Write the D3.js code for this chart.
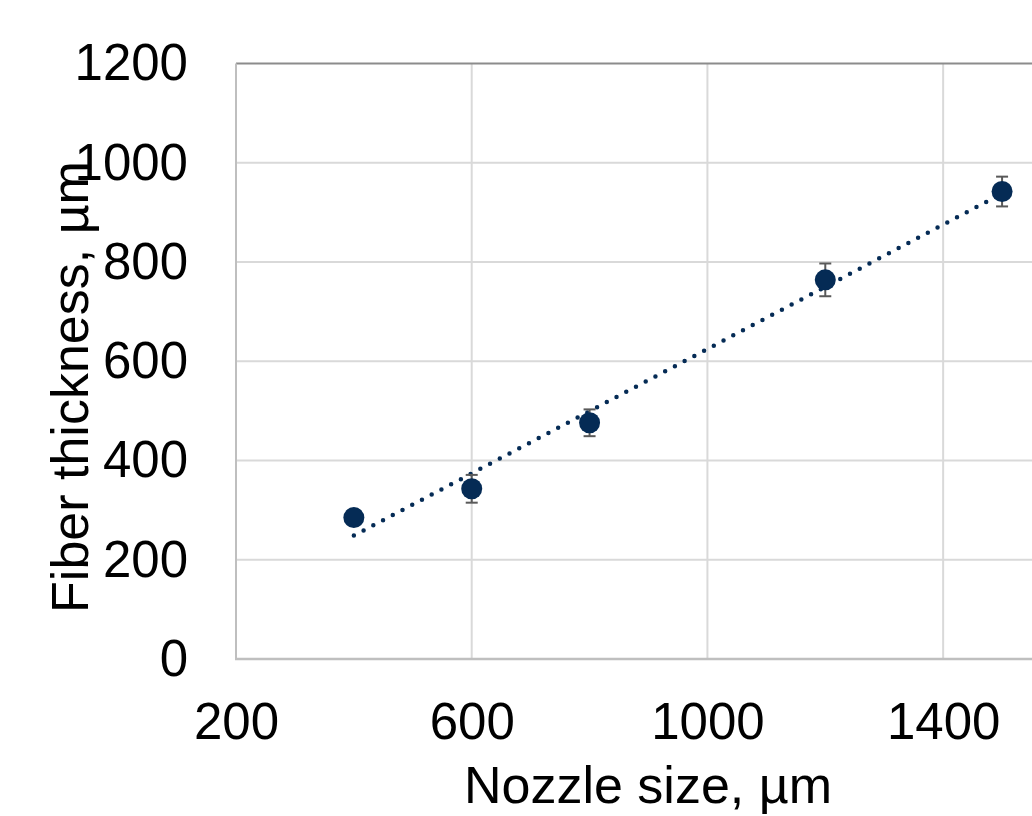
<!DOCTYPE html>
<html>
<head>
<meta charset="utf-8">
<script src="https://cdn.jsdelivr.net/npm/d3@7"></script>
<style>
  body { margin: 0; background: #fff; }
  svg { display: block; font-family: "Liberation Sans", Arial, sans-serif; }
</style>
</head>
<body>
<div id="graph"></div>
<script>
// nozzle size (µm) vs measured fiber thickness (µm)
const nozzle = [400, 600, 800, 1200, 1500];
const thickness = [285, 343, 476, 764, 942];
const errors = [10, 28, 27, 33, 30];

const xTicks = [200, 600, 1000, 1400];
const yTicks = [0, 200, 400, 600, 800, 1000, 1200];

const width = 1032;
const height = 816;
const navy = "#052b55";

const svg = d3.select("#graph")
              .append("svg")
              .attr("width", width)
              .attr("height", height);

const xScale = d3.scaleLinear()
                 .domain([200, 1600])
                 .range([236, 1061]);

const yScale = d3.scaleLinear()
                 .domain([0, 1200])
                 .range([659, 63.5]);

// gridlines
svg.append("g")
   .selectAll("line")
   .data(yTicks.filter(t => t > 0 && t < 1200))
   .enter()
   .append("line")
   .attr("x1", xScale(200))
   .attr("x2", width)
   .attr("y1", d => yScale(d))
   .attr("y2", d => yScale(d))
   .style("stroke", "#d9d9d9")
   .style("stroke-width", 2);

svg.append("g")
   .selectAll("line")
   .data(xTicks.filter(t => t > 200))
   .enter()
   .append("line")
   .attr("x1", d => xScale(d))
   .attr("x2", d => xScale(d))
   .attr("y1", yScale(0))
   .attr("y2", yScale(1200))
   .style("stroke", "#d9d9d9")
   .style("stroke-width", 2);

// frame lines
svg.append("line")
   .attr("x1", xScale(200)).attr("x2", width)
   .attr("y1", yScale(1200)).attr("y2", yScale(1200))
   .style("stroke", "#8c8c8c").style("stroke-width", 2);

svg.append("line")
   .attr("x1", xScale(200)).attr("x2", xScale(200))
   .attr("y1", yScale(1200)).attr("y2", yScale(0))
   .style("stroke", "#bfbfbf").style("stroke-width", 2);

svg.append("line")
   .attr("x1", xScale(200) - 1).attr("x2", width)
   .attr("y1", yScale(0)).attr("y2", yScale(0))
   .style("stroke", "#bfbfbf").style("stroke-width", 2.5);

// axes (labels only)
const xAxis = d3.axisBottom(xScale).tickValues(xTicks).tickFormat(d3.format("d"))
                .tickSize(0).tickPadding(44);
const yAxis = d3.axisLeft(yScale).tickValues(yTicks).tickFormat(d3.format("d"))
                .tickSize(0).tickPadding(48);

const gx = svg.append("g")
              .attr("transform", `translate(0, ${yScale(0)})`)
              .call(xAxis);
const gy = svg.append("g")
              .attr("transform", `translate(${xScale(200)}, 0)`)
              .call(yAxis);

[gx, gy].forEach(g => {
  g.select(".domain").remove();
  g.selectAll("text")
   .style("font-size", "51px")
   .style("font-family", "'Liberation Sans', Arial, sans-serif")
   .style("fill", "#000");
});

// linear trend line (least squares fit of the points)
const mx = d3.mean(nozzle);
const my = d3.mean(thickness);
const slope = d3.sum(nozzle, (x, i) => (x - mx) * (thickness[i] - my)) /
              d3.sum(nozzle, x => (x - mx) * (x - mx));
const intercept = my - slope * mx;
const xMin = d3.min(nozzle);
const xMax = d3.max(nozzle);

svg.append("line")
   .attr("x1", xScale(xMin))
   .attr("y1", yScale(slope * xMin + intercept))
   .attr("x2", xScale(xMax))
   .attr("y2", yScale(slope * xMax + intercept))
   .style("stroke", navy)
   .style("stroke-width", 4.5)
   .style("stroke-linecap", "round")
   .style("stroke-dasharray", "0 11");

// error bars
const bars = svg.append("g")
                .selectAll("g")
                .data(nozzle)
                .enter()
                .append("g")
                .style("stroke", "#595959")
                .style("stroke-width", 2);

bars.append("line")
    .attr("x1", d => xScale(d))
    .attr("x2", d => xScale(d))
    .attr("y1", (d, i) => yScale(thickness[i] - errors[i]))
    .attr("y2", (d, i) => yScale(thickness[i] + errors[i]));

bars.append("line")
    .attr("x1", d => xScale(d) - 6)
    .attr("x2", d => xScale(d) + 6)
    .attr("y1", (d, i) => yScale(thickness[i] - errors[i]))
    .attr("y2", (d, i) => yScale(thickness[i] - errors[i]));

bars.append("line")
    .attr("x1", d => xScale(d) - 6)
    .attr("x2", d => xScale(d) + 6)
    .attr("y1", (d, i) => yScale(thickness[i] + errors[i]))
    .attr("y2", (d, i) => yScale(thickness[i] + errors[i]));

// markers
svg.selectAll("circle")
   .data(nozzle)
   .enter()
   .append("circle")
   .attr("cx", d => xScale(d))
   .attr("cy", (d, i) => yScale(thickness[i]))
   .attr("r", 10.5)
   .attr("fill", navy);

// axis titles
svg.append("text")
   .attr("x", 648)
   .attr("y", 803)
   .style("text-anchor", "middle")
   .style("font-size", "52px")
   .text("Nozzle size, µm");

svg.append("text")
   .attr("transform", "translate(88, 387) rotate(-90)")
   .style("text-anchor", "middle")
   .style("font-size", "52px")
   .text("Fiber thickness, µm");
</script>
</body>
</html>
